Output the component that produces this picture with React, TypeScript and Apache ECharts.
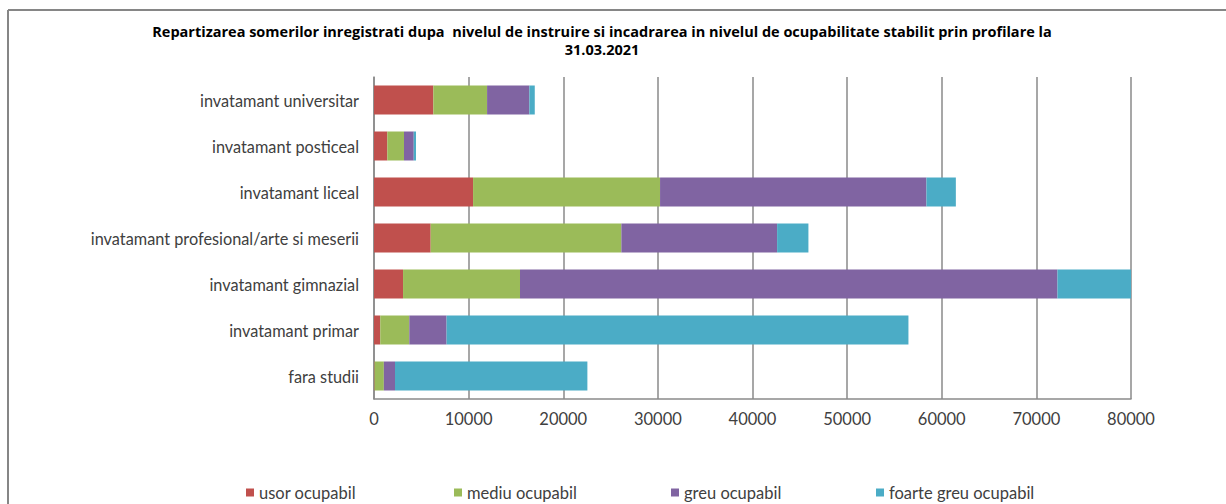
import React, { useEffect, useRef } from "react";
import * as echarts from "echarts";

const categories = [
  "fara studii",
  "invatamant primar",
  "invatamant gimnazial",
  "invatamant profesional/arte si meserii",
  "invatamant liceal",
  "invatamant posticeal",
  "invatamant universitar",
];

const seriesNames = ["usor ocupabil", "mediu ocupabil", "greu ocupabil", "foarte greu ocupabil"];

const usorValues = [60, 660, 3070, 5990, 10470, 1410, 6270];
const mediuValues = [980, 3070, 12360, 20150, 19760, 1760, 5680];
const greuValues = [1180, 3940, 56800, 16460, 28150, 1030, 4470];
const foarteGreuValues = [20330, 48810, 7770, 3310, 3110, 240, 570];

const xTicks = { min: 0, max: 80000, interval: 10000 };

const colors = ["#C0504D", "#9BBB59", "#8064A2", "#4BACC6"];
const legendLefts = [246, 454, 671, 876];

const titleText =
  "Repartizarea somerilor inregistrati dupa  nivelul de instruire si incadrarea in nivelul de ocupabilitate stabilit prin profilare la\n31.03.2021";

const FONT = "Lato, 'Open Sans', sans-serif";

export default function App() {
  const ref = useRef<HTMLDivElement>(null);

  useEffect(() => {
    if (!ref.current) return;
    const chart = echarts.init(ref.current, undefined, { renderer: "svg" });
    const valueArrays = [usorValues, mediuValues, greuValues, foarteGreuValues];
    const gridColor = "#8a8a8a";

    chart.setOption({
      animation: false,
      backgroundColor: "#ffffff",
      textStyle: { fontFamily: FONT },
      title: {
        text: titleText,
        left: 602,
        top: 22,
        textAlign: "center",
        padding: 0,
        textStyle: {
          fontFamily: "'Open Sans', sans-serif",
          fontSize: 14.5,
          fontWeight: "bold",
          color: "#000000",
          lineHeight: 18,
        },
      },
      legend: seriesNames.map((name, i) => ({
        data: [name],
        left: legendLefts[i],
        top: 484,
        padding: 0,
        itemWidth: 8,
        itemHeight: 8,
        icon: "rect",
        selectedMode: false,
        textStyle: { fontFamily: FONT, fontSize: 16.5, color: "#404040" },
      })),
      grid: { left: 374, right: 95, top: 77, bottom: 105, containLabel: false },
      xAxis: {
        type: "value",
        min: xTicks.min,
        max: xTicks.max,
        interval: xTicks.interval,
        axisLine: { show: true, lineStyle: { color: gridColor, width: 1.5 } },
        axisTick: { show: false },
        splitLine: { show: true, lineStyle: { color: gridColor, width: 1.5 } },
        axisLabel: {
          fontFamily: FONT,
          fontSize: 16.5,
          color: "#404040",
          margin: 11,
          formatter: (v: number) => String(v),
        },
      },
      yAxis: {
        type: "category",
        data: categories,
        axisLine: { show: true, lineStyle: { color: gridColor, width: 1.5 } },
        axisTick: { show: false },
        axisLabel: { fontFamily: FONT, fontSize: 16.3, color: "#404040", margin: 15 },
      },
      graphic: [
        { type: "line", shape: { x1: 8, y1: 10, x2: 1226, y2: 10 }, style: { stroke: "#868686", lineWidth: 2 } },
        { type: "line", shape: { x1: 8, y1: 10, x2: 8, y2: 504 }, style: { stroke: "#868686", lineWidth: 2 } },
      ],
      series: seriesNames.map((name, i) => ({
        name,
        type: "bar",
        stack: "total",
        data: valueArrays[i],
        barWidth: 29,
        itemStyle: { color: colors[i] },
      })),
    });

    return () => chart.dispose();
  }, []);

  return (
    <div
      ref={ref}
      style={{ position: "absolute", left: 0, top: 0, width: 1226, height: 504 }}
    />
  );
}
